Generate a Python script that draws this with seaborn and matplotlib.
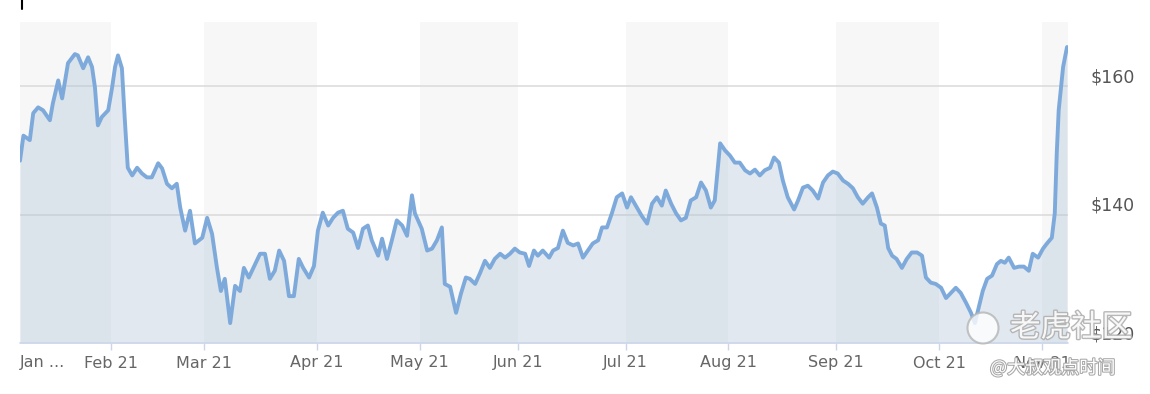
import matplotlib
matplotlib.use("Agg")
import matplotlib.pyplot as plt
import seaborn as sns
import pandas as pd
from matplotlib.transforms import ScaledTranslation
from matplotlib.lines import Line2D
from matplotlib.patches import Ellipse
import matplotlib.patheffects as pe

# ---- data (trading session index since 4 Jan 2021, price in USD) ----
session = [
    0.4, 1.1, 2.4, 3.1, 4.1, 5.1, 6.5, 7.1, 8.2, 9.0,
    10.2, 11.6, 12.2, 13.3, 14.3, 15.1, 15.7, 16.3, 17.1, 18.4,
    19.2, 19.8, 20.4, 21.2, 21.8, 22.4, 23.3, 24.3, 25.3, 26.3,
    27.3, 28.6, 29.4, 30.4, 31.4, 32.4, 33.1, 34.1, 35.1, 36.1,
    37.6, 38.6, 39.6, 40.6, 41.4, 42.2, 43.3, 44.3, 45.3, 46.1,
    47.1, 48.4, 49.4, 50.4, 51.4, 52.4, 53.3, 54.3, 55.3, 56.3,
    57.3, 58.2, 59.4, 60.4, 61.2, 62.2, 63.3, 64.3, 65.3, 66.3,
    67.3, 68.4, 69.4, 70.4, 71.4,
    72.2, 73.5, 74.3, 75.3, 76.3, 77.3, 78.4, 79.4, 80.4, 81.0,
    82.4, 83.5, 84.5, 85.5, 86.5, 87.1, 88.2, 89.4, 90.4, 91.4,
    92.2, 93.3, 94.3, 95.3, 96.3, 97.3, 98.4, 99.4, 100.4, 101.4,
    102.4, 103.5, 104.3, 105.3, 106.1, 107.1,
    108.4, 109.2, 110.2, 111.2, 112.2, 113.3, 114.3, 115.3, 116.3, 117.3,
    118.4, 119.2, 120.2, 121.2, 122.2, 123.3, 124.3, 125.1, 126.3, 127.3,
    128.4, 129.4, 130.4, 131.4, 132.2, 133.3, 134.3, 135.3, 136.3, 137.3,
    138.4, 139.4, 140.4, 141.4, 142.2, 143.3,
    144.3, 145.3, 146.3, 147.3, 148.4, 149.4, 150.4, 151.4, 152.4, 153.5,
    154.3, 155.3, 156.1, 157.1, 158.4, 159.2, 160.2, 161.2, 162.2, 163.3,
    164.3, 165.3, 166.3, 167.3, 168.4, 169.4, 170.4, 171.4, 172.4, 173.5,
    174.3, 175.3, 176.1, 176.9, 177.6, 178.4,
    179.3, 180.4, 181.4, 182.4, 183.5, 184.5, 185.3, 186.3, 187.3, 188.4,
    189.4, 190.4, 191.4, 192.4, 193.5, 194.5, 195.3, 196.1, 196.9, 197.8,
    198.8, 199.8, 200.6, 201.4, 202.2, 203.3, 204.3, 205.3, 206.3, 207.1,
    208.2, 209.2, 210.0, 211.0, 211.6, 212.0, 212.4, 213.3, 214.1,
]
price = [
    148.4, 152.3, 151.6, 155.8, 156.7, 156.25, 154.7, 157.3, 160.9, 158.1,
    163.6, 165, 164.8, 162.8, 164.5, 163, 159.8, 153.9, 155.2, 156.25,
    159.8, 163, 164.8, 162.8, 154.7, 147.3, 146.1, 147.3, 146.4, 145.8,
    145.8, 148, 147.2, 144.8, 144.1, 144.8, 141.1, 137.5, 140.6, 135.5,
    136.4, 139.5, 137, 131.7, 128.1, 130, 123.1, 128.9, 128.1, 131.7,
    130.2, 132.3, 133.9, 133.9, 130, 131.25, 134.4, 132.8, 127.3, 127.3,
    133.1, 131.7, 130.2, 132, 137.5, 140.3, 138.3, 139.5, 140.3, 140.6,
    137.8, 137.2, 134.8, 137.8, 138.3,
    136, 133.6, 136.25, 133.1, 136, 139.1, 138.3, 136.7, 143, 140.2,
    137.8, 134.4, 134.7, 136, 138, 129.2, 128.75, 124.7, 127.7, 130.2,
    130, 129.2, 130.9, 132.8, 131.7, 133.1, 133.9, 133.3, 133.9, 134.7,
    134.1, 133.9, 132, 134.4, 133.6, 134.4,
    133.3, 134.4, 134.8, 137.5, 135.6, 135.2, 135.5, 133.3, 134.4, 135.5,
    136, 138, 138, 140.2, 142.7, 143.3, 141.1, 142.7, 141.1, 139.8,
    138.6, 141.7, 142.7, 141.4, 143.75, 141.7, 140.2, 139.1, 139.5, 142.2,
    142.7, 145, 143.75, 141.1, 142.2, 151.1,
    150, 149.2, 148.1, 148.1, 146.9, 146.4, 147, 146.1, 146.9, 147.3,
    148.9, 148.1, 145.3, 142.7, 140.8, 142.2, 144.2, 144.5, 143.75, 142.5,
    145, 146.1, 146.7, 146.4, 145.3, 144.8, 144.1, 142.7, 141.7, 142.7,
    143.3, 141.1, 138.6, 138.3, 134.8, 133.6,
    133.1, 131.7, 133.1, 134.1, 134.1, 133.6, 130.2, 129.4, 129.2, 128.6,
    127, 127.8, 128.6, 127.8, 126.25, 124.7, 123.1, 125.6, 128.1, 130,
    130.5, 132.3, 132.8, 132.5, 133.3, 131.7, 131.9, 131.9, 131.25, 133.9,
    133.3, 134.7, 135.5, 136.4, 140.2, 149.5, 156.25, 163, 166.1,
]
month_start = [0, 19, 38, 61, 82, 102, 124, 145, 167, 188, 209]
month_labels = ["Jan ...", "Feb 21", "Mar 21", "Apr 21", "May 21", "Jun 21",
                "Jul 21", "Aug 21", "Sep 21", "Oct 21", "Nov 21"]
y_ticks = [120, 140, 160]
y_labels = ["$120", "$140", "$160"]
last_session = 214.3

df = pd.DataFrame({"session": session, "price": price})

sns.set_theme(style="white")
plt.rcParams["font.family"] = ["DejaVu Sans", "Noto Sans CJK SC"]

W, H = 1150, 394
fig = plt.figure(figsize=(W / 100, H / 100), dpi=100)
ax = fig.add_axes([20 / W, 1 - 343 / H, (1068 - 20) / W, (343 - 22) / H])

x_lo = 0.4
ax.set_xlim(x_lo, last_session)
ax.set_ylim(120, 170)

# alternating month bands
edges = month_start + [last_session]
for i in range(len(month_start)):
    if i % 2 == 0:
        ax.axvspan(max(edges[i], x_lo), edges[i + 1], color="#f7f7f7", lw=0, zorder=0)

# grid lines
for yv in y_ticks[1:]:
    ax.axhline(yv, color="#dadada", lw=1.1, zorder=1)

ax.fill_between(df["session"], df["price"], 120, color="#a9bfd6", alpha=0.35, lw=0, zorder=2)
sns.lineplot(data=df, x="session", y="price", ax=ax, color="#7eaadb", lw=2.8,
             zorder=3, sort=False)

for s in ax.spines.values():
    s.set_visible(False)
ax.axhline(120, color="#ccd6eb", lw=1.2, zorder=4, clip_on=False)

ax.set_xlabel("")
ax.set_ylabel("")
ticks = [max(m, x_lo) for m in month_start]
ax.set_xticks(ticks)
ax.set_xticklabels(month_labels)
ax.tick_params(axis="x", bottom=True, length=5, width=1, color="#ccd6eb",
               labelsize=11.5, labelcolor="#666666", pad=4)
ax.xaxis.get_majorticklabels()[0].set_horizontalalignment("left")
ax.xaxis.get_major_ticks()[0].tick1line.set_visible(False)

ax.yaxis.tick_right()
ax.set_yticks(y_ticks)
ax.set_yticklabels(y_labels)
ax.tick_params(axis="y", right=False, left=False, length=0, pad=16,
               labelsize=12.5, labelcolor="#555555")
for lab in ax.get_yticklabels():
    lab.set_transform(lab.get_transform() + ScaledTranslation(0, 11 / 100, fig.dpi_scale_trans))

# small mark at the top-left corner
fig.add_artist(Line2D([22 / W, 22 / W], [1, 1 - 9 / H], color="black", lw=1.5))

# watermark
fig.add_artist(Ellipse((983 / W, 1 - 328 / H), 31 / W, 31 / H, transform=fig.transFigure,
                       facecolor="white", edgecolor="#b5b5b5", lw=1.5, alpha=0.8, zorder=10))
wm = [pe.withStroke(linewidth=2, foreground="#b0b0b0")]
fig.text(1010 / W, 1 - 328 / H, "老虎社区", fontsize=22, color="white",
         family=["Noto Sans CJK SC", "DejaVu Sans"], va="center", ha="left",
         path_effects=wm, alpha=0.9, zorder=11)
fig.text(990 / W, 1 - 368 / H, "@大叔观点时间", fontsize=13, color="white",
         family=["Noto Sans CJK SC", "DejaVu Sans"], va="center", ha="left",
         path_effects=[pe.withStroke(linewidth=1.5, foreground="#a8a8a8")], zorder=11)

fig.savefig("out.png", dpi=100, facecolor="white")
